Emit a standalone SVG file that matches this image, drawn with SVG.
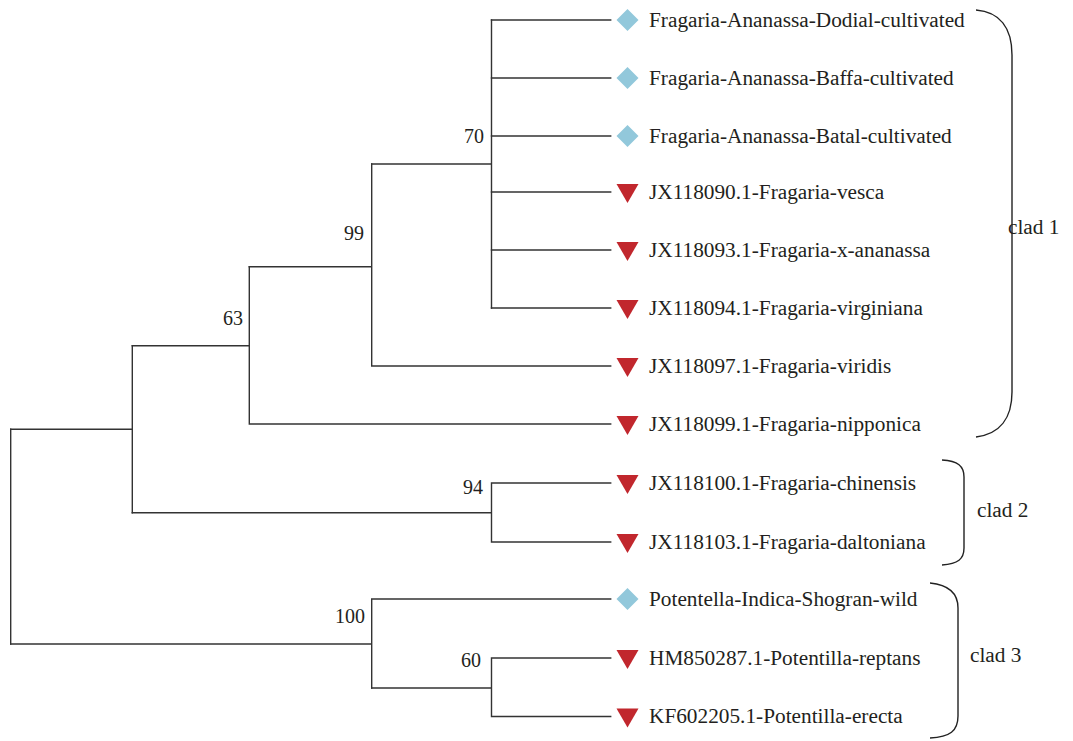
<svg xmlns="http://www.w3.org/2000/svg" width="1073" height="741" viewBox="0 0 1073 741">
<defs>
<style>
.br{fill:none;stroke:#333;stroke-width:1.4;stroke-linecap:square}
.bc{fill:none;stroke:#222;stroke-width:1.4}
.lab{font-family:"Liberation Serif","Times New Roman",serif;font-size:21.3px;fill:#231f20}
.num{font-family:"Liberation Serif","Times New Roman",serif;font-size:20px;fill:#231f20;text-anchor:end}
.dia{fill:#92c8db}
.tri{fill:#c1272d}
</style>
<polygon id="dm" points="0,-11 11,0 0,11 -11,0"/>
<polygon id="tr" points="-11,-8 11,-8 0,11"/>
</defs>
<rect width="1073" height="741" fill="#fff"/>
<g id="connectors" class="br">
<path d="M10.7,429.3V644"/>
<path d="M10.7,429.3H132.3M132.3,345.7V512.7"/>
<path d="M132.3,345.7H249.3M249.3,266.7V424M249.3,424H610.7"/>
<path d="M249.3,266.7H371.7M371.7,164V366M371.7,366H610.7"/>
<path d="M371.7,164H491.5M491.5,20V308"/>
<path d="M491.5,20H610.7M491.5,78H610.7M491.5,136H610.7M491.5,192H610.7M491.5,250H610.7M491.5,308H610.7"/>
<path d="M132.3,512.7H491.5M491.5,483V542M491.5,483H610.7M491.5,542H610.7"/>
<path d="M10.7,644H371.7M371.7,599V688M371.7,599H610.7"/>
<path d="M371.7,688H491.5M491.5,658V716.5M491.5,658H610.7M491.5,716.5H610.7"/>
</g>
<g id="support">
<text class="num" x="484" y="143">70</text>
<text class="num" x="364" y="240">99</text>
<text class="num" x="243" y="325">63</text>
<text class="num" x="483" y="494">94</text>
<text class="num" x="365" y="623">100</text>
<text class="num" x="481" y="667">60</text>
</g>
<g id="leaf1"><use href="#dm" class="dia" x="627.5" y="20"/><text class="lab" x="649" y="26.5">Fragaria-Ananassa-Dodial-cultivated</text></g>
<g id="leaf2"><use href="#dm" class="dia" x="627.5" y="78"/><text class="lab" x="649" y="84.5">Fragaria-Ananassa-Baffa-cultivated</text></g>
<g id="leaf3"><use href="#dm" class="dia" x="627.5" y="136"/><text class="lab" x="649" y="142.5">Fragaria-Ananassa-Batal-cultivated</text></g>
<g id="leaf4"><use href="#tr" class="tri" x="627.5" y="192"/><text class="lab" x="649" y="198.5">JX118090.1-Fragaria-vesca</text></g>
<g id="leaf5"><use href="#tr" class="tri" x="627.5" y="250"/><text class="lab" x="649" y="256.5">JX118093.1-Fragaria-x-ananassa</text></g>
<g id="leaf6"><use href="#tr" class="tri" x="627.5" y="308"/><text class="lab" x="649" y="314.5">JX118094.1-Fragaria-virginiana</text></g>
<g id="leaf7"><use href="#tr" class="tri" x="627.5" y="366"/><text class="lab" x="649" y="372.5">JX118097.1-Fragaria-viridis</text></g>
<g id="leaf8"><use href="#tr" class="tri" x="627.5" y="424"/><text class="lab" x="649" y="430.5">JX118099.1-Fragaria-nipponica</text></g>
<g id="leaf9"><use href="#tr" class="tri" x="627.5" y="483"/><text class="lab" x="649" y="489.5">JX118100.1-Fragaria-chinensis</text></g>
<g id="leaf10"><use href="#tr" class="tri" x="627.5" y="542"/><text class="lab" x="649" y="548.5">JX118103.1-Fragaria-daltoniana</text></g>
<g id="leaf11"><use href="#dm" class="dia" x="627.5" y="599"/><text class="lab" x="649" y="605.5">Potentella-Indica-Shogran-wild</text></g>
<g id="leaf12"><use href="#tr" class="tri" x="627.5" y="658"/><text class="lab" x="649" y="664.5">HM850287.1-Potentilla-reptans</text></g>
<g id="leaf13"><use href="#tr" class="tri" x="627.5" y="716.5"/><text class="lab" x="649" y="723">KF602205.1-Potentilla-erecta</text></g>
<g id="clad1"><path class="bc" d="M976,10C1000,12 1012,28 1012,55V392C1012,418 1000,434 976,437"/><text class="lab" x="1008" y="234">clad 1</text></g>
<g id="clad2"><path class="bc" d="M942,460C958,461 964,466 964,477V548C964,559 958,564 942,565"/><text class="lab" x="977" y="517">clad 2</text></g>
<g id="clad3"><path class="bc" d="M930,583C950,585 958,594 958,608V716C958,731 950,737 930,738"/><text class="lab" x="970" y="662">clad 3</text></g>
</svg>
